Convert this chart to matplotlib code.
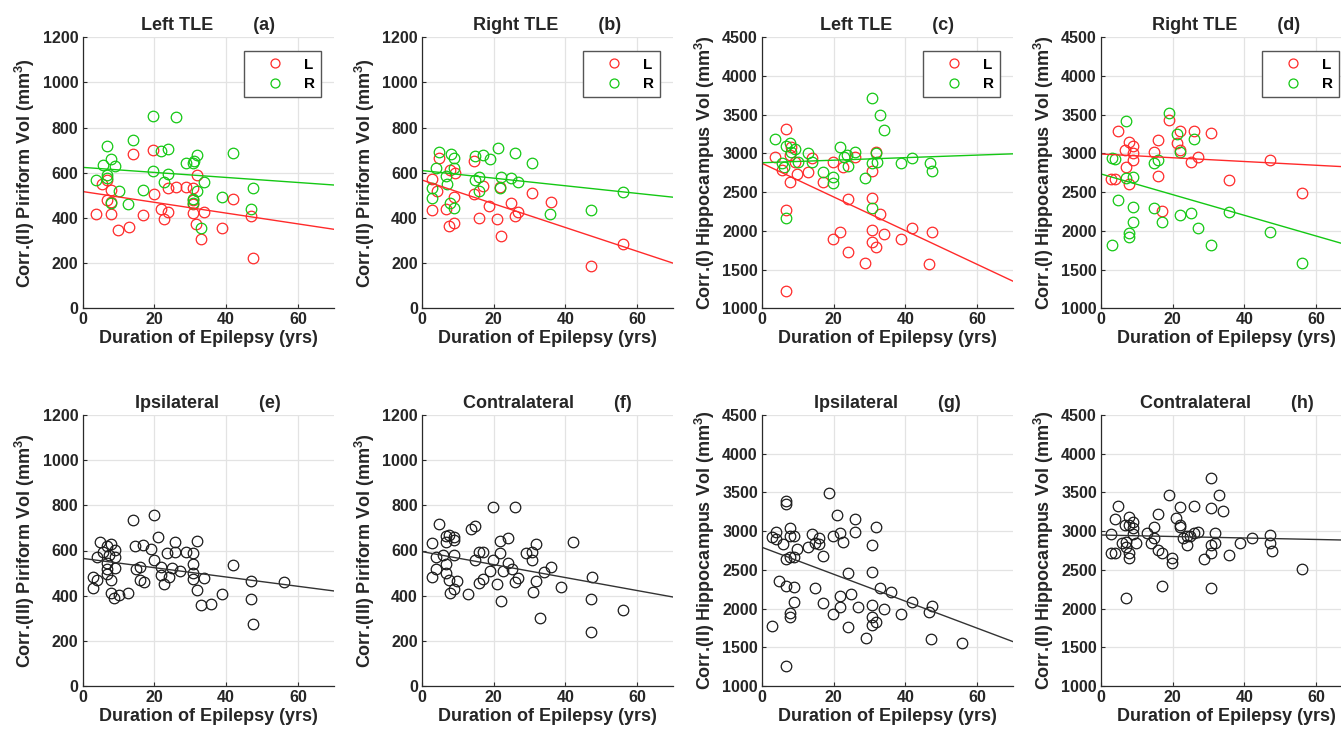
import numpy as np
import matplotlib
matplotlib.use('Agg')
import matplotlib.pyplot as plt

plt.rcParams['font.family'] = ['Liberation Sans', 'DejaVu Sans']
plt.rcParams['font.weight'] = 'bold'
plt.rcParams['mathtext.fontset'] = 'custom'
plt.rcParams['mathtext.rm'] = 'Liberation Sans:bold'
plt.rcParams['mathtext.bf'] = 'Liberation Sans:bold'

# ---- data: (duration yrs, volume mm^3) ----
# (a) Left TLE, piriform
a_L_x = [3.8, 5.5, 6.9, 6.9, 7.9, 7.9, 7.9, 9.8, 13.0, 14.0, 16.9, 19.7, 19.8, 21.9, 22.8, 23.7, 23.7, 26.0,
         28.8, 30.7, 30.9, 30.9, 30.9, 31.8, 31.6, 32.9, 33.9, 38.9, 42.0, 46.9, 47.5]
a_L_y = [416, 551, 570, 480, 419, 472, 524, 347, 360, 685, 413, 703, 505, 441, 396, 428, 531, 539,
         539, 531, 480, 462, 424, 590, 373, 307, 425, 354, 483, 409, 221]
a_R_x = [3.7, 5.7, 6.7, 6.9, 6.9, 7.9, 9.0, 7.9, 10.0, 12.7, 14.0, 16.9, 19.7, 19.7, 21.9, 22.8, 23.9, 23.9,
         26.0, 28.8, 30.7, 31.1, 32.0, 31.8, 30.9, 30.9, 33.0, 33.9, 38.9, 42.0, 47.5, 46.9]
a_R_y = [568, 636, 719, 590, 577, 661, 632, 465, 521, 462, 745, 524, 850, 608, 697, 561, 595, 704,
         846, 644, 642, 652, 679, 521, 483, 468, 354, 561, 494, 689, 531, 440]
a_fit_L = [517, 350]
a_fit_R = [624, 546]

# (b) Right TLE, piriform
b_L_x = [2.9, 2.8, 4.1, 4.8, 6.7, 7.5, 9.0, 8.8, 7.8, 9.1, 14.5, 14.6, 15.9, 17.1, 18.8, 20.9, 22.0, 21.8,
         24.9, 25.8, 26.9, 30.8, 35.9, 47.0, 56.0]
b_L_y = [573, 435, 521, 664, 440, 365, 376, 494, 612, 598, 652, 506, 398, 543, 455, 396, 322, 539,
         465, 409, 428, 509, 472, 189, 283]
b_R_x = [2.9, 2.9, 3.9, 4.8, 6.7, 6.9, 8.0, 8.9, 8.9, 7.8, 9.0, 14.8, 14.8, 15.9, 15.9, 16.9, 19.0, 21.1,
         22.0, 21.8, 24.9, 25.8, 26.9, 30.8, 35.8, 47.0, 56.0]
b_R_y = [534, 490, 623, 694, 587, 550, 683, 664, 620, 465, 443, 673, 568, 583, 521, 680, 660, 712,
         583, 534, 576, 689, 561, 642, 416, 435, 514]
b_fit_L = [568, 200]
b_fit_R = [610, 492]

# (c) Left TLE, hippocampus
c_L_x = [3.7, 5.5, 6.8, 6.8, 6.8, 7.8, 7.8, 8.0, 9.2, 9.9, 12.8, 14.0, 16.9, 19.7, 19.8, 21.8, 22.7, 24.0,
         24.0, 25.8, 28.8, 30.7, 30.7, 30.7, 30.7, 31.9, 31.9, 32.8, 33.9, 38.8, 41.8, 46.6, 47.4]
c_L_y = [2959, 2787, 3320, 2270, 1224, 2636, 2980, 3088, 2885, 2735, 2756, 2937, 2636, 2885, 1891, 1981,
         2830, 2412, 1732, 2959, 1581, 2429, 2012, 1861, 2778, 3023, 1788, 2214, 1956, 1891, 2042, 1568, 1990]
c_R_x = [3.7, 5.5, 6.0, 6.8, 6.8, 7.8, 8.0, 9.2, 10.0, 12.8, 13.9, 16.9, 19.8, 19.8, 21.8, 22.9, 24.0,
         23.7, 25.8, 28.8, 30.7, 30.7, 30.7, 31.9, 32.1, 33.0, 33.9, 38.8, 41.9, 46.8, 47.4]
c_R_y = [3187, 2881, 2830, 3101, 2162, 3131, 3023, 3058, 2885, 3002, 2885, 2756, 2700, 2614, 3088, 2950,
         2842, 2980, 3023, 2679, 3721, 2873, 2291, 3002, 2885, 3497, 3303, 2881, 2946, 2881, 2778]
c_fit_L = [2873, 1350]
c_fit_R = [2880, 2995]

# (d) Right TLE, hippocampus
d_L_x = [2.8, 3.9, 4.8, 6.7, 6.9, 7.9, 7.9, 8.8, 8.8, 8.8, 14.8, 16.0, 16.0, 17.1, 19.0, 21.1, 22.0, 22.0,
         25.0, 26.0, 27.0, 30.7, 35.8, 47.0, 56.0]
d_L_y = [2670, 2665, 3294, 3045, 2830, 3153, 2606, 3101, 3002, 2916, 3023, 3174, 2713, 2261, 3432, 3140,
         3294, 3045, 2894, 3294, 2959, 3260, 2657, 2916, 2485]
d_R_x = [3.0, 3.9, 3.0, 4.8, 6.9, 6.9, 8.9, 7.9, 7.9, 8.8, 8.8, 14.8, 14.9, 16.0, 17.1, 19.0, 21.1, 22.0,
         22.0, 25.0, 26.0, 27.0, 30.7, 35.8, 47.0, 56.0]
d_R_y = [2946, 2929, 1818, 2399, 3424, 2687, 2700, 1969, 1917, 2304, 2119, 2291, 2873, 2916, 2110, 3518,
         3247, 3023, 2205, 2227, 3183, 2033, 1818, 2248, 1990, 1581]
d_fit_L = [2993, 2823]
d_fit_R = [2735, 1800]

# (e) Ipsilateral, piriform
e_x = [2.9, 3.0, 3.9, 3.9, 4.7, 5.7, 6.7, 6.9, 6.9, 6.9, 7.2, 7.9, 7.9, 7.9, 9.0, 9.0, 9.0, 8.8, 10.0,
       12.7, 14.0, 14.6, 14.8, 16.0, 16.0, 16.9, 17.1, 19.0, 19.8, 19.9, 20.9, 21.8, 21.8, 22.7, 23.4,
       24.1, 24.9, 25.8, 25.8, 27.0, 28.7, 30.7, 30.9, 30.9, 30.9, 32.0, 32.0, 32.9, 33.9, 35.9, 38.8,
       42.0, 46.9, 47.0, 47.4, 56.0]
e_y = [435, 484, 469, 573, 638, 595, 621, 543, 517, 496, 580, 629, 469, 410, 602, 573, 521, 391, 403,
       413, 735, 621, 518, 528, 469, 624, 462, 605, 757, 558, 658, 528, 491, 452, 587,
       481, 524, 636, 595, 511, 595, 590, 539, 502, 474, 644, 425, 359, 480, 363, 407,
       536, 466, 385, 275, 459]
e_fit = [565, 421]

# (f) Contralateral, piriform
f_x = [2.9, 2.9, 3.9, 3.9, 4.8, 5.8, 6.7, 6.7, 6.7, 6.7, 7.6, 7.6, 7.8, 8.8, 8.8, 8.9, 8.9, 9.9, 12.9,
       13.8, 14.8, 14.8, 15.9, 15.9, 16.9, 16.9, 19.0, 19.9, 19.9, 20.9, 21.8, 21.8, 22.0, 22.7, 24.0,
       24.0, 25.1, 25.8, 25.8, 26.9, 28.9, 30.8, 30.8, 30.9, 31.9, 31.9, 33.0, 33.9, 36.0, 38.8, 42.0,
       47.2, 47.4, 47.0, 56.0]
f_y = [632, 484, 570, 517, 716, 580, 666, 639, 539, 502, 669, 469, 413, 646, 661, 580, 430, 466, 407,
       694, 709, 558, 595, 455, 595, 472, 509, 794, 558, 450, 642, 590, 378, 509, 654,
       543, 517, 791, 462, 477, 590, 595, 558, 418, 627, 466, 303, 506, 525, 440, 636,
       384, 481, 241, 337]
f_fit = [595, 394]

# (g) Ipsilateral, hippocampus
g_x = [2.9, 2.8, 3.9, 3.9, 4.8, 5.8, 6.7, 6.7, 6.7, 6.7, 6.7, 7.8, 7.8, 7.8, 7.8, 7.8, 8.8, 8.8, 8.9, 8.9,
       9.9, 12.8, 13.9, 14.8, 14.8, 15.9, 15.9, 16.9, 16.9, 18.8, 19.8, 19.8, 20.9, 21.8, 21.8, 21.8,
       22.7, 24.0, 24.0, 24.9, 25.8, 25.8, 26.9, 28.9, 30.7, 30.7, 30.7, 30.7, 30.7, 31.9, 31.9, 32.8,
       33.9, 35.9, 38.8, 41.8, 46.7, 47.4, 47.0, 55.8]
g_y = [1779, 2929, 2993, 2894, 2360, 2834, 3393, 3350, 2636, 2291, 1258, 3036, 2941, 2662, 1938, 1895,
       2941, 2670, 2274, 2089, 2769, 2791, 2963, 2842, 2261, 2907, 2834, 2679, 2076, 3488, 2937, 1926,
       3208, 2980, 2162, 2016, 2864, 2464, 1766, 2188, 3152, 2993, 2016, 1616, 2821, 2468, 2046, 1895,
       1788, 3058, 1822, 2261, 1990, 2210, 1926, 2080, 1951, 2037, 1603, 1551]
g_fit = [2791, 1573]

# (h) Contralateral, hippocampus
h_x = [2.8, 2.8, 3.9, 3.9, 4.8, 5.8, 6.7, 6.9, 6.9, 6.9, 7.8, 7.8, 7.9, 7.9, 8.8, 8.8, 8.8, 9.9, 12.9,
       13.9, 14.8, 14.8, 15.8, 16.0, 16.9, 16.9, 19.0, 19.9, 19.9, 20.8, 21.9, 21.9, 21.9, 22.8, 23.9,
       23.9, 24.8, 25.8, 26.0, 27.0, 28.8, 30.7, 30.7, 30.7, 30.7, 30.7, 31.8, 31.8, 32.9, 33.9, 35.8,
       38.8, 42.0, 47.0, 47.0, 47.6, 56.0]
h_y = [2963, 2713, 2713, 3152, 3329, 2851, 3079, 2864, 2799, 2132, 3187, 3079, 2723, 2650, 3122, 3036,
       2959, 2851, 2972, 2851, 2907, 3058, 3218, 2757, 2713, 2291, 3467, 2650, 2593, 3174, 3316, 3079,
       3058, 2907, 2821, 2937, 2937, 2972, 3329, 2993, 2637, 3690, 3294, 2821, 2723, 2261, 2972, 2851,
       3467, 3260, 2692, 2842, 2907, 2950, 2842, 2743, 2511]
h_fit = [2950, 2883]

RED = '#ff2a2a'
GREEN = '#14c814'
pir_label = r'Corr.(II) Piriform Vol (mm$^{\mathbf{3}}$)'
pir3_label = r'Corr.(III) Piriform Vol (mm$^{\mathbf{3}}$)'
hip1_label = r'Corr.(I) Hippocampus Vol (mm$^{\mathbf{3}}$)'
hip2_label = r'Corr.(II) Hippocampus Vol (mm$^{\mathbf{3}}$)'
gap = ' ' * 8

fig = plt.figure(figsize=(13.41, 7.37), dpi=100)
W, H = 1341.0, 737.0
lefts = [82.7, 422, 762, 1101]
aw = 251.0
ah = 271.0
bottoms = [308.3, 686.0]


def make_ax(col, row):
    ax = fig.add_axes([lefts[col] / W, (H - bottoms[row]) / H, aw / W, ah / H])
    ax.set_xlim(0, 70)
    ax.set_xticks([0, 20, 40, 60])
    ax.grid(True, color='#e3e3e3', linewidth=0.9)
    ax.set_axisbelow(True)
    for s in ['top', 'right']:
        ax.spines[s].set_visible(False)
    for s in ['left', 'bottom']:
        ax.spines[s].set_color('#2a2a2a')
        ax.spines[s].set_linewidth(0.9)
    ax.tick_params(direction='in', length=3, width=0.8, color='#2a2a2a',
                   labelsize=11.5, labelcolor='#262626', pad=3)
    for lab in ax.get_xticklabels() + ax.get_yticklabels():
        lab.set_fontweight('bold')
    ax.set_xlabel('Duration of Epilepsy (yrs)', fontsize=13, fontweight='bold', color='#262626', labelpad=2)
    return ax


def circles(ax, x, y, c, label=None):
    ax.plot(x, y, 'o', linestyle='none', markersize=7.6, markerfacecolor='none',
            markeredgecolor=c, markeredgewidth=0.9, label=label)


def fit_line(ax, ends, c):
    ax.plot([0, 70], ends, '-', color=c, linewidth=1.0)


def legend(ax):
    leg = ax.legend(loc='upper right', bbox_to_anchor=(0.948, 0.948), borderaxespad=0,
                    fancybox=False, framealpha=1, edgecolor='#555555', numpoints=1,
                    handlelength=3.2, handletextpad=0.3, borderpad=0.4, labelspacing=0.35,
                    prop={'weight': 'bold', 'size': 11}, markerscale=0.85)
    leg.get_frame().set_linewidth(1.0)


panels = [
    (0, 0, 'Left TLE', '(a)', pir_label, [0, 1200], 200, a_L_x, a_L_y, a_R_x, a_R_y, a_fit_L, a_fit_R),
    (1, 0, 'Right TLE', '(b)', pir_label, [0, 1200], 200, b_L_x, b_L_y, b_R_x, b_R_y, b_fit_L, b_fit_R),
    (2, 0, 'Left TLE', '(c)', hip1_label, [1000, 4500], 500, c_L_x, c_L_y, c_R_x, c_R_y, c_fit_L, c_fit_R),
    (3, 0, 'Right TLE', '(d)', hip1_label, [1000, 4500], 500, d_L_x, d_L_y, d_R_x, d_R_y, d_fit_L, d_fit_R),
]
for col, row, name, tag, ylab, ylim, step, lx, ly, rx, ry, fl, fr in panels:
    ax = make_ax(col, row)
    circles(ax, lx, ly, RED, 'L')
    circles(ax, rx, ry, GREEN, 'R')
    fit_line(ax, fl, RED)
    fit_line(ax, fr, GREEN)
    ax.set_ylim(*ylim)
    ax.set_yticks(np.arange(ylim[0], ylim[1] + 1, step))
    for lab in ax.get_yticklabels():
        lab.set_fontweight('bold')
    ax.set_ylabel(ylab, fontsize=13, fontweight='bold', color='#262626', labelpad=4)
    ax.set_title(name + gap + tag, fontsize=13, fontweight='bold', color='#262626', pad=5)
    legend(ax)

single = [
    (0, 1, 'Ipsilateral', '(e)', pir3_label, [0, 1200], 200, e_x, e_y, e_fit),
    (1, 1, 'Contralateral', '(f)', pir3_label, [0, 1200], 200, f_x, f_y, f_fit),
    (2, 1, 'Ipsilateral', '(g)', hip2_label, [1000, 4500], 500, g_x, g_y, g_fit),
    (3, 1, 'Contralateral', '(h)', hip2_label, [1000, 4500], 500, h_x, h_y, h_fit),
]
for col, row, name, tag, ylab, ylim, step, x, y, fit in single:
    ax = make_ax(col, row)
    circles(ax, x, y, '#1a1a1a')
    fit_line(ax, fit, '#333333')
    ax.set_ylim(*ylim)
    ax.set_yticks(np.arange(ylim[0], ylim[1] + 1, step))
    for lab in ax.get_yticklabels():
        lab.set_fontweight('bold')
    ax.set_ylabel(ylab, fontsize=13, fontweight='bold', color='#262626', labelpad=4)
    ax.set_title(name + gap + tag, fontsize=13, fontweight='bold', color='#262626', pad=5)

fig.savefig('out.png', dpi=100)
